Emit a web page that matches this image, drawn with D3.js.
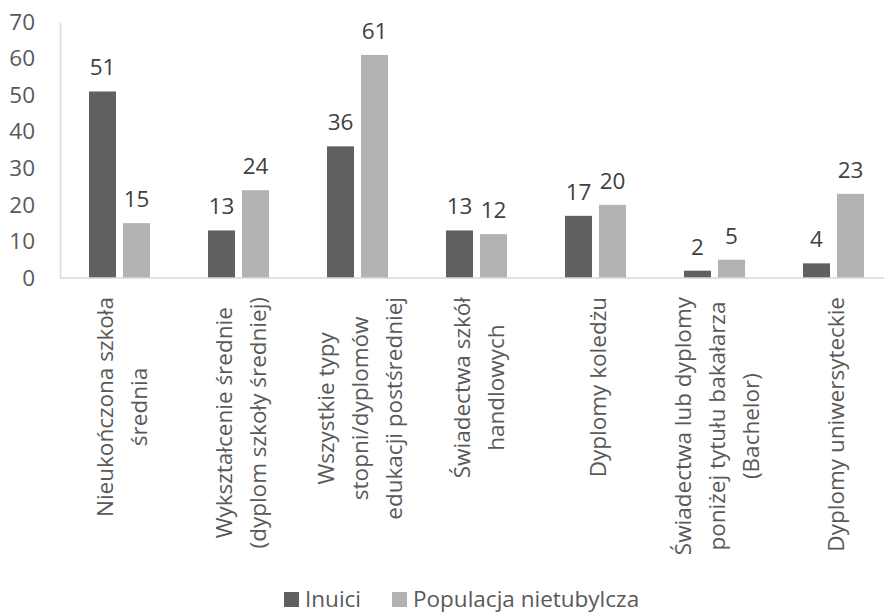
<!DOCTYPE html>
<html>
<head>
<meta charset="utf-8">
<script src="https://cdn.jsdelivr.net/npm/d3@7/dist/d3.min.js"></script>
<style>
  html, body { margin: 0; padding: 0; background: #ffffff; }
  svg { display: block; font-family: "Open Sans", "Noto Sans", sans-serif; }
</style>
</head>
<body>
<svg id="chart" width="884" height="612"></svg>
<script>
// Education levels (category labels split into their display lines)
const categories = [
  ["Nieukończona szkoła", "średnia"],
  ["Wykształcenie średnie", "(dyplom szkoły średniej)"],
  ["Wszystkie typy", "stopni/dyplomów", "edukacji postśredniej"],
  ["Świadectwa szkół", "handlowych"],
  ["Dyplomy koledżu"],
  ["Świadectwa lub dyplomy", "poniżej tytułu bakałarza", "(Bachelor)"],
  ["Dyplomy uniwersyteckie"]
];
const seriesNames = ["Inuici", "Populacja nietubylcza"];
const inuici = [51, 13, 36, 13, 17, 2, 4];
const nonIndigenous = [15, 24, 61, 12, 20, 5, 23];
const yTicks = [0, 10, 20, 30, 40, 50, 60, 70];

const colors = ["#606060", "#b2b2b2"];
const FONT = 22.5;

const svg = d3.select("#chart");
const plotLeft = 60, plotRight = 893, plotTop = 22, plotBottom = 278;

const keys = categories.map((c, i) => "c" + i);
const x = d3.scaleBand().domain(keys).range([plotLeft, plotRight]).padding(0);
const step = x.step();
const groupW = 61;
const xSub = d3.scaleBand().domain(seriesNames)
  .range([(step - groupW) / 2, (step + groupW) / 2])
  .paddingInner(7 / 34).paddingOuter(0);
const y = d3.scaleLinear().domain([0, 70]).range([plotBottom, plotTop]);

// Y axis: labels only, light axis line
const yAxis = d3.axisLeft(y).tickValues(yTicks).tickSize(0).tickPadding(25);
const yg = svg.append("g").attr("transform", `translate(${plotLeft},0)`).call(yAxis);
yg.select(".domain").attr("stroke", "#d9d9d9").attr("stroke-width", 1.5);
yg.selectAll("text").attr("font-size", FONT).attr("fill", "#595959")
  .attr("font-family", "'Open Sans', 'Noto Sans', sans-serif");

// Bars with value labels
const series = [inuici, nonIndigenous];
series.forEach((vals, s) => {
  const g = svg.append("g");
  g.selectAll("rect").data(vals).join("rect")
    .attr("x", (d, i) => x(keys[i]) + xSub(seriesNames[s]))
    .attr("y", d => y(d))
    .attr("width", xSub.bandwidth())
    .attr("height", d => y(0) - y(d))
    .attr("fill", colors[s]);
  g.selectAll("text").data(vals).join("text")
    .attr("x", (d, i) => x(keys[i]) + xSub(seriesNames[s]) + xSub.bandwidth() / 2)
    .attr("y", d => y(d) - 16)
    .attr("text-anchor", "middle")
    .attr("font-size", FONT)
    .attr("fill", "#404040")
    .text(d => d);
});

// X axis line
svg.append("line")
  .attr("x1", plotLeft).attr("x2", plotRight)
  .attr("y1", plotBottom).attr("y2", plotBottom)
  .attr("stroke", "#d9d9d9").attr("stroke-width", 1.5);

// Rotated, multi-line category labels
const lineH = 34;
categories.forEach((lines, i) => {
  const cx = x(keys[i]) + step / 2;
  const g = svg.append("g").attr("transform", `translate(${cx},297) rotate(-90)`);
  const texts = lines.map((ln, j) => g.append("text")
    .attr("y", (j - (lines.length - 1) / 2) * lineH + 10)
    .attr("text-anchor", "middle")
    .attr("font-size", FONT)
    .attr("fill", "#595959")
    .text(ln));
  const maxW = d3.max(texts, t => t.node().getComputedTextLength());
  texts.forEach(t => t.attr("x", -maxW / 2));
});

// Legend
let lx = 284;
seriesNames.forEach((name, s) => {
  svg.append("rect").attr("x", lx).attr("y", 592).attr("width", 15).attr("height", 15)
    .attr("fill", colors[s]);
  const t = svg.append("text").attr("x", lx + 21).attr("y", 607)
    .attr("font-size", FONT).attr("fill", "#595959").text(name);
  lx += 21 + t.node().getComputedTextLength() + 31;
});
</script>
</body>
</html>
